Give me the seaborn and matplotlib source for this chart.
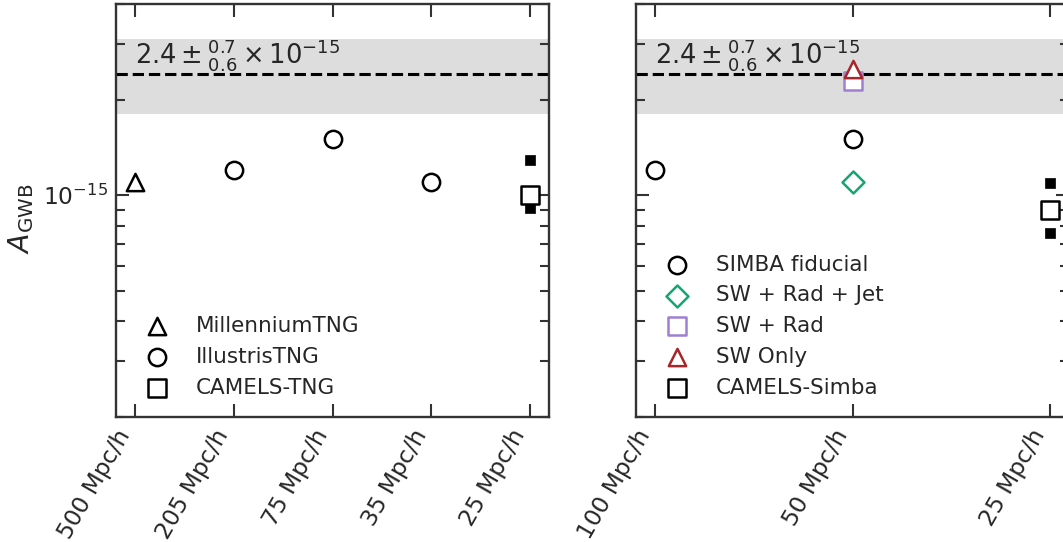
import numpy as np
import pandas as pd
import matplotlib
matplotlib.use("Agg")
import matplotlib.pyplot as plt
from matplotlib.ticker import LogLocator, NullFormatter, FixedLocator
import seaborn as sns

sns.set_theme(style="ticks")
plt.rcParams["font.family"] = ["DejaVu Sans"]
plt.rcParams["mathtext.fontset"] = "dejavusans"

# --- NANOGrav amplitude band ---
A_obs = 2.4e-15
A_hi = 0.7e-15
A_lo = 0.6e-15

# --- TNG family (left panel) ---
tng_boxes = ["500 Mpc/h", "205 Mpc/h", "75 Mpc/h", "35 Mpc/h", "25 Mpc/h"]
mtng_box = ["500 Mpc/h"]
mtng_amp = [1.1e-15]
itng_box = ["205 Mpc/h", "75 Mpc/h", "35 Mpc/h"]
itng_amp = [1.2e-15, 1.5e-15, 1.1e-15]
camels_tng_box = ["25 Mpc/h"]
camels_tng_amp = [1.0e-15]
camels_tng_range = [1.29e-15, 0.91e-15]

# --- SIMBA family (right panel) ---
simba_boxes = ["100 Mpc/h", "50 Mpc/h", "25 Mpc/h"]
simba_fid_box = ["100 Mpc/h", "50 Mpc/h"]
simba_fid_amp = [1.2e-15, 1.5e-15]
sw_rad_jet_box = ["50 Mpc/h"]
sw_rad_jet_amp = [1.1e-15]
sw_rad_box = ["50 Mpc/h"]
sw_rad_amp = [2.28e-15]
sw_only_box = ["50 Mpc/h"]
sw_only_amp = [2.5e-15]
camels_simba_box = ["25 Mpc/h"]
camels_simba_amp = [0.9e-15]
camels_simba_range = [1.09e-15, 0.76e-15]

DARK = "#262626"
GREEN = "#12a772"
PURPLE = "#a07fd2"
RED = "#a8262b"

FS = 15.5       # legend text
TFS = 16.8      # tick labels
MS = 155        # marker area, pt^2
LW = 1.8

fig = plt.figure(figsize=(10.63, 5.42), dpi=100)
W, H = 1063, 542
ax_l = fig.add_axes([116 / W, (H - 417) / H, 433 / W, 413 / H])
ax_r = fig.add_axes([636 / W, (H - 417) / H, 433 / W, 413 / H])


def frame(box_names, amps):
    return pd.DataFrame({"box": box_names, "amp": amps})


def draw_open(ax, order, box_names, amps, marker, color, label, size=MS, face="white", z=3):
    df = frame(box_names, amps)
    df["x"] = [order.index(b) for b in df["box"]]
    sns.scatterplot(data=df, x="x", y="amp", ax=ax, marker=marker, s=size,
                    facecolor=face, edgecolor=color, linewidth=LW,
                    label=label, zorder=z, legend=False)


def draw_range(ax, order, box_name, vals):
    df = frame([box_name] * len(vals), vals)
    df["x"] = [order.index(b) for b in df["box"]]
    sns.scatterplot(data=df, x="x", y="amp", ax=ax, marker="s", s=60,
                    color="black", edgecolor="black", linewidth=0.5,
                    zorder=2, legend=False)


# left panel
draw_range(ax_l, tng_boxes, camels_tng_box[0], camels_tng_range)
draw_open(ax_l, tng_boxes, mtng_box, mtng_amp, "^", "black", "MillenniumTNG")
draw_open(ax_l, tng_boxes, itng_box, itng_amp, "o", "black", "IllustrisTNG")
draw_open(ax_l, tng_boxes, camels_tng_box, camels_tng_amp, "s", "black", "CAMELS-TNG")

# right panel
draw_range(ax_r, simba_boxes, camels_simba_box[0], camels_simba_range)
draw_open(ax_r, simba_boxes, simba_fid_box, simba_fid_amp, "o", "black", "SIMBA fiducial")
draw_open(ax_r, simba_boxes, sw_rad_jet_box, sw_rad_jet_amp, "D", GREEN, "SW + Rad + Jet", size=125)
draw_open(ax_r, simba_boxes, sw_rad_box, sw_rad_amp, "s", PURPLE, "SW + Rad", z=2)
draw_open(ax_r, simba_boxes, sw_only_box, sw_only_amp, "^", RED, "SW Only", z=4)
draw_open(ax_r, simba_boxes, camels_simba_box, camels_simba_amp, "s", "black", "CAMELS-Simba")

label_txt = r"$2.4 \pm^{0.7}_{0.6} \times 10^{-15}$"

for ax, order in ((ax_l, tng_boxes), (ax_r, simba_boxes)):
    ax.axhspan(A_obs - A_lo, A_obs + A_hi, color="#dddddd", lw=0, zorder=0)
    ax.axhline(A_obs, color="black", ls=(0, (3.7, 1.6)), lw=2.2, zorder=1.5)
    ax.text(0, 2.6e-15, label_txt, fontsize=18.5, color=DARK, ha="left", va="baseline")

    ax.set_yscale("log")
    ax.set_ylim(2e-16, 4e-15)
    n = len(order)
    pad = 0.19 if n == 5 else 0.097
    ax.set_xlim(-pad, n - 1 + pad)
    ax.xaxis.set_major_locator(FixedLocator(range(n)))
    ax.set_xticklabels(order, rotation=60, ha="right", fontsize=TFS, color=DARK)
    ax.yaxis.set_major_locator(LogLocator(base=10, numticks=10))
    ax.yaxis.set_minor_locator(LogLocator(base=10, subs=np.arange(2, 10), numticks=10))
    ax.yaxis.set_minor_formatter(NullFormatter())
    ax.tick_params(axis="both", which="major", direction="in", top=True, right=True,
                   length=9.4, width=1.5, color="#333333", labelsize=TFS,
                   labelcolor=DARK, pad=6)
    ax.tick_params(axis="y", which="minor", direction="in", left=True, right=True,
                   length=6.2, width=1.5, color="#333333")
    ax.tick_params(axis="x", which="minor", bottom=False, top=False)
    for sp in ax.spines.values():
        sp.set_linewidth(1.7)
        sp.set_color("#333333")
    ax.set_xlabel("")
    leg = ax.legend(loc="lower left", frameon=False, fontsize=FS)
    for t in leg.get_texts():
        t.set_color(DARK)

ax_l.set_ylabel(r"$A_{\rm GWB}$", fontsize=20.5, color=DARK)
ax_l.yaxis.set_label_coords(-0.185, 0.48)
ax_r.set_ylabel("")
ax_r.tick_params(axis="y", which="both", labelleft=False)

fig.savefig("out.png", dpi=100)
